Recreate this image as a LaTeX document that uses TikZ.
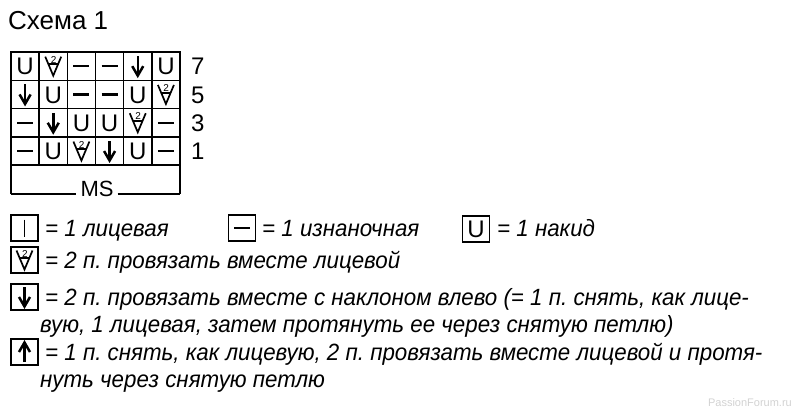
\documentclass[tikz,border=0pt]{standalone}
\usepackage{fontspec}
\setmainfont{Liberation Sans}
\newfontfamily\legendfont[FakeStretch=0.95]{Liberation Sans}
\frenchspacing

\tikzset{
  gridline/.style={line width=1.6pt},
  symline/.style={line width=1.7pt},
  legbox/.style={draw, line width=1.5pt, minimum width=27pt, minimum height=26pt, inner sep=0pt},
  legtext/.style={anchor=base west, inner sep=0pt, font=\legendfont\itshape\fontsize{23.5}{27}\selectfont},
  rownum/.style={anchor=base west, inner sep=0pt, font=\fontsize{24}{28}\selectfont},
  % stitch symbols, drawn round the cell centre
  knit/.pic={\draw[symline] (0,-8.5) -- (0,8.5);},
  purl/.pic={\draw[line width=2.2pt] (-8,0) -- (8,0);},
  yo/.pic={\node[inner sep=0pt, font=\fontsize{24}{28}\selectfont] at (0,0.5) {U};},
  ktog/.pic={
    \draw[symline, line join=miter] (-8,-9.5) -- (0,9.5) -- (8,-9.5);
    \draw[symline] (-4.8,-1.8) -- (4.8,-1.8);
    \node[inner sep=0pt, font=\fontsize{10}{10}\selectfont] at (0.3,-6.4) {2};},
  ssk/.pic={
    \draw[line width=2.5pt] (0,-10) -- (0,9);
    \draw[line width=2.5pt, line join=miter] (-5.5,0) -- (0,9.5) -- (5.5,0);},
  skp/.pic={
    \draw[line width=2.5pt] (0,10) -- (0,-9);
    \draw[line width=2.5pt, line join=miter] (-5.5,0) -- (0,-9.5) -- (5.5,0);}
}

\begin{document}
\begin{tikzpicture}[x=1pt, y=-1pt]
  \useasboundingbox (0,0) rectangle (800,412);

  % Title
  \node[anchor=base west, inner sep=0pt, font=\fontsize{26}{30}\selectfont] (title) at (8,30) {Схема 1};

  % Draw the chart grid
  \draw[gridline] (11,194) -- (11,52) -- (180,52) -- (180,194);
  \draw[gridline] (11,80.3) -- (180,80.3);
  \draw[gridline] (11,108.6) -- (180,108.6);
  \draw[gridline] (11,136.9) -- (180,136.9);
  \draw[gridline] (11,165.2) -- (180,165.2);
  \draw[gridline] (39.17,52) -- (39.17,165.2);
  \draw[gridline] (67.33,52) -- (67.33,165.2);
  \draw[gridline] (95.5,52) -- (95.5,165.2);
  \draw[gridline] (123.67,52) -- (123.67,165.2);
  \draw[gridline] (151.83,52) -- (151.83,165.2);

  % repeat box
  \node[anchor=base, inner sep=0pt, font=\fontsize{22}{26}\selectfont] (ms) at (97,196) {MS};
  \draw[gridline] (11,194) -- ([xshift=-4pt]ms.west |- 0,194);
  \draw[gridline] ([xshift=4pt]ms.east |- 0,194) -- (180,194);

  % row 7
  \pic at (25.08,66.15) {yo};
  \pic at (53.25,66.15) {ktog};
  \pic at (81.42,66.15) {purl};
  \pic at (109.58,66.15) {purl};
  \pic at (137.75,66.15) {ssk};
  \pic at (165.92,66.15) {yo};
  % row 5
  \pic at (25.08,94.45) {ssk};
  \pic at (53.25,94.45) {yo};
  \pic at (81.42,94.45) {purl};
  \pic at (109.58,94.45) {purl};
  \pic at (137.75,94.45) {yo};
  \pic at (165.92,94.45) {ktog};
  % row 3
  \pic at (25.08,122.75) {purl};
  \pic at (53.25,122.75) {ssk};
  \pic at (81.42,122.75) {yo};
  \pic at (109.58,122.75) {yo};
  \pic at (137.75,122.75) {ktog};
  \pic at (165.92,122.75) {purl};
  % row 1
  \pic at (25.08,151.05) {purl};
  \pic at (53.25,151.05) {yo};
  \pic at (81.42,151.05) {ktog};
  \pic at (109.58,151.05) {ssk};
  \pic at (137.75,151.05) {yo};
  \pic at (165.92,151.05) {purl};

  % row numbers
  \node[rownum] (r7) at (191,74.7) {7};
  \node[rownum] (r5) at (191,103) {5};
  \node[rownum] (r3) at (191,131.3) {3};
  \node[rownum] (r1) at (191,159.5) {1};

  % Legend
  \node[legbox] (kbox) at (24.5,228) {};
  \pic at (kbox) {knit};
  \node[legtext] (ktext) at (45,236) {= 1 лицевая};

  \node[legbox] (pbox) at (242,228) {};
  \pic at (pbox) {purl};
  \node[legtext] (ptext) at (262,236) {= 1 изнаночная};

  \node[legbox] (ybox) at (476,229) {};
  \pic at (ybox) {yo};
  \node[legtext] (ytext) at (497,236) {= 1 накид};

  \node[legbox] (tbox) at (24.5,260) {};
  \pic at (tbox) {ktog};
  \node[legtext] (ttext) at (45,268) {= 2 п. провязать вместе лицевой};

  \node[legbox] (sbox) at (24.5,297) {};
  \pic at (sbox) {ssk};
  \node[legtext] (stext) at (45,305) {= 2 п. провязать вместе с наклоном влево (= 1 п. снять, как лице-};
  \node[legtext] (stext2) at (40,332) {вую, 1 лицевая, затем протянуть ее через снятую петлю)};

  \node[legbox] (ubox) at (24.5,352) {};
  \pic at (ubox) {skp};
  \node[legtext] (utext) at (45,360) {= 1 п. снять, как лицевую, 2 п. провязать вместе лицевой и протя-};
  \node[legtext] (utext2) at (40,387) {нуть через снятую петлю};

  % watermark
  \node[anchor=base east, inner sep=0pt, text=gray!35, font=\fontsize{11}{11}\selectfont] (wm) at (792,406) {PassionForum.ru};
\end{tikzpicture}
\end{document}
